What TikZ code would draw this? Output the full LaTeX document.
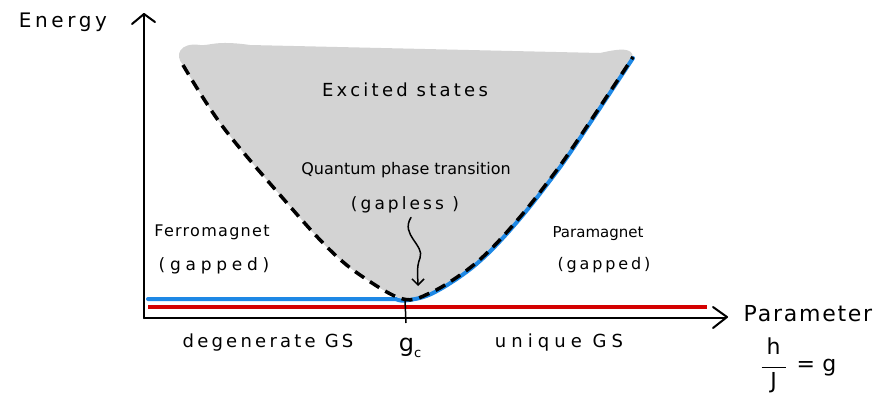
\documentclass[tikz,border=0pt]{standalone}
\usepackage{fontspec}
\setmainfont{DejaVu Sans}
\newfontfamily\widefont[LetterSpace=18]{DejaVu Sans}
\newfontfamily\xwidefont[LetterSpace=28]{DejaVu Sans}
\newfontfamily\midfont[LetterSpace=8]{DejaVu Sans}
\usetikzlibrary{arrows.meta}
\definecolor{fillgray}{HTML}{D3D3D3}
\definecolor{myblue}{HTML}{1E88E5}
\definecolor{myred}{HTML}{D40000}
\tikzset{
  lbl/.style={font=\fontsize{16}{19}\selectfont, inner sep=1pt},
  axis/.style={line width=2pt, line cap=round},
  tip/.style={line width=2pt, line cap=round, line join=round},
  gapline/.style={black, line width=3.5pt, dash pattern=on 11pt off 7pt},
}
\begin{document}
\begin{tikzpicture}[x=1pt,y=-1pt]
\useasboundingbox (0,0) rectangle (877,394);
% excited states region
\fill[fillgray] plot[smooth, tension=0.6] coordinates {(183,65) (223,127) (287,203) (330,250) (363,277) (403,299) (430,293) (463,273) (490,250) (520,217) (547,183) (573,147) (633,57)}
  .. controls (632,48) and (622,48) .. (600,53)
  -- (250,45) .. controls (215,40) and (210,46) .. (200,45)
  .. controls (180,42) and (174,55) .. (183,65) -- cycle;
% blue line
\draw[myblue, line width=4pt, line cap=round] (148,299) -- (396,299) plot[smooth, tension=0.6] coordinates {(396,299) (405,300.5) (430,294.5) (463,274.5) (490,251.5) (520,218.5) (547,184.5) (573,148.5) (633,58)};
% red line
\draw[myred, line width=4pt] (148,307) -- (707,307);
% dashed gap curve
\draw[gapline] plot[smooth, tension=0.6] coordinates {(183,65) (223,127) (287,203) (330,250) (363,277) (403,299) (430,293) (463,273) (490,250) (520,217) (547,183) (573,147) (633,57)};
% axes
\coordinate (origin) at (144,318);
\coordinate (ytop) at (144,14);
\coordinate (xend) at (725,318);
\draw[axis] (origin) -- (ytop);
\draw[axis] (origin) -- (xend);
\draw[tip] (132,24) -- (ytop) -- (155,22);
\draw[tip] (713,307) -- (727,317) -- (713,328);
% critical point tick
\coordinate (gcpt) at (405,300);
\coordinate (gctick) at (406,323);
\draw[line width=1.5pt] (gcpt) -- (gctick);
% labels
\node[lbl, font=\fontsize{20}{24}\widefont] (energy) at (63,22) {Energy};
\node[lbl, font=\fontsize{18}{21}\widefont] (excited) at (405,90) {Excited states};
\node[lbl, font=\fontsize{16}{19}\selectfont] (qpt) at (406,170) {Quantum phase transition};
\node[lbl, font=\fontsize{17}{20}\widefont] (gapless) at (405,205) {(gapless )};
\node[lbl, font=\fontsize{16}{19}\midfont] (ferro) at (212,232) {Ferromagnet};
\node[lbl, font=\fontsize{17}{20}\xwidefont] (ferrog) at (214,266) {(gapped)};
\node[lbl, font=\fontsize{15}{18}\selectfont] (para) at (598,234) {Paramagnet};
\node[lbl, font=\fontsize{16}{19}\widefont] (parag) at (604,265) {(gapped)};
\node[lbl, font=\fontsize{22}{26}\midfont] (param) at (808,314) {Parameter};
\node[lbl, font=\fontsize{18}{21}\widefont] (degen) at (268,343) {degenerate GS};
\node[lbl, font=\fontsize{18}{21}\xwidefont] (unique) at (559,343) {unique GS};
\node[lbl, font=\fontsize{24}{28}\selectfont, inner sep=0pt] (gc) at (410,348) {g\raisebox{-6pt}{\fontsize{13}{15}\selectfont c}};
\node[lbl, font=\fontsize{22}{26}\selectfont, inner sep=0pt] (hjg) at (799,366) {\begin{tabular}{@{}c@{}}h\\[-6pt]\rule[6pt]{24pt}{1.5pt}\\[-12pt]J\end{tabular}\,\,\,=\,\,g};
% squiggle arrow
\coordinate (sqend) at (418,286);
\draw[line width=1.5pt, line cap=round, -{Straight Barb[length=6pt,width=12pt]}] (gapless.south) ++(6,3) .. controls (400,235) and (425,245) .. (420,258) .. controls (416,268) and (418,278) .. (sqend);
\end{tikzpicture}
\end{document}
